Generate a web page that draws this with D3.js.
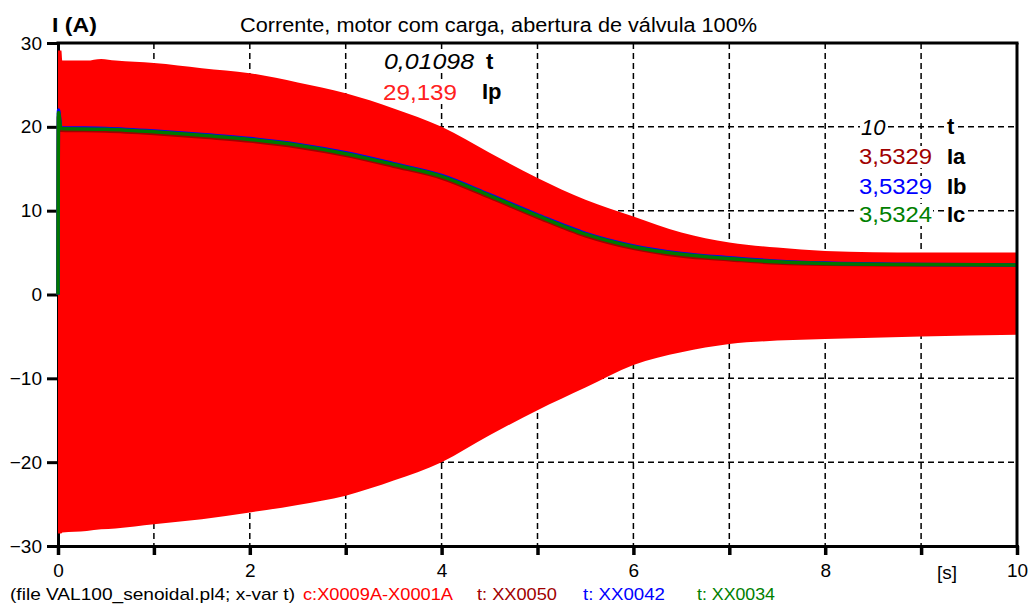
<!DOCTYPE html>
<html>
<head>
<meta charset="utf-8">
<script src="https://cdn.jsdelivr.net/npm/d3@7"></script>
<style>
  html, body { margin: 0; padding: 0; background: #fff; }
  svg { display: block; font-family: "Liberation Sans", Arial, sans-serif; }
</style>
</head>
<body>
<svg id="chart" width="1030" height="605"></svg>
<script>
// ---- data ----
const envTime = [0, 0.035, 0.045, 0.3, 0.45, 0.6, 1, 1.5, 2, 2.5, 3, 3.5, 4, 4.5, 5, 5.5, 6, 6.5, 7, 7.5, 8, 9, 10];
const ipUpper = [29.1, 29.1, 27.9, 27.9, 28.1, 27.9, 27.6, 27.0, 26.4, 25.3, 24.0, 22.2, 20.0, 16.9, 13.9, 11.3, 9.3, 7.4, 6.2, 5.6, 5.2, 5.0, 5.0];
const ipLower = [-28.5, -28.5, -28.4, -28.2, -28.0, -27.9, -27.4, -26.8, -26.0, -25.1, -24.0, -22.2, -20.0, -16.8, -13.8, -11.1, -8.4, -6.9, -5.9, -5.5, -5.3, -5.0, -4.8];

const rmsTime = [0, 0.005, 0.03, 0.5, 1, 1.5, 2, 2.5, 3, 3.5, 4, 4.5, 5, 5.5, 6, 6.5, 7, 7.5, 8, 9, 10];
const ia = [0, 21.3, 19.6, 19.5, 19.2, 18.8, 18.3, 17.6, 16.6, 15.3, 13.9, 11.6, 9.2, 7.0, 5.5, 4.6, 4.15, 3.75, 3.6, 3.55, 3.533];
const ib = [0, 22.0, 19.9, 19.8, 19.5, 19.1, 18.6, 17.9, 16.9, 15.6, 14.2, 11.9, 9.5, 7.3, 5.8, 4.9, 4.38, 3.98, 3.76, 3.59, 3.533];
const ic = [0, 21.7, 19.8, 19.7, 19.4, 19.0, 18.5, 17.8, 16.8, 15.5, 14.1, 11.8, 9.4, 7.2, 5.7, 4.8, 4.3, 3.9, 3.7, 3.57, 3.532];

const yTicks = [-30, -20, -10, 0, 10, 20, 30];
const xTicks = [0, 1, 2, 3, 4, 5, 6, 7, 8, 9, 10];
const xGrid = [1, 2, 3, 4, 5, 6, 7, 8, 9];
const yGrid = [-20, -10, 0, 10, 20];

const titleText = "Corrente, motor com carga, abertura de válvula 100%";
const yLabel = "I (A)";
const xUnit = "[s]";
const cursor1 = { t: "0,01098", value: "29,139", name: "Ip" };
const cursor2 = { t: "10", values: ["3,5329", "3,5329", "3,5324"], names: ["Ia", "Ib", "Ic"] };
const footer = [
  { text: "(file VAL100_senoidal.pl4; x-var t)", color: "#000000" },
  { text: "c:X0009A-X0001A", color: "#ff0000" },
  { text: "t: XX0050", color: "#a00000" },
  { text: "t: XX0042", color: "#0000ff" },
  { text: "t: XX0034", color: "#008000" }
];
const colors = { ip: "#ff0000", ia: "#a00000", ib: "#0000ff", ic: "#007800" };

// ---- layout ----
const W = 1030, H = 605;
const m = { left: 58, top: 43, right: 13, bottom: 59 };
const svg = d3.select("#chart");
const x = d3.scaleLinear().domain([0, 10]).range([m.left, W - m.right]);
const y = d3.scaleLinear().domain([-30, 30]).range([H - m.bottom, m.top]);

// gridlines
const grid = svg.append("g").attr("stroke", "#000").attr("stroke-width", 1.5).attr("stroke-dasharray", "6,4");
grid.selectAll("line.v").data(xGrid).join("line").attr("class", "v")
  .attr("x1", d => x(d)).attr("x2", d => x(d)).attr("y1", y(30)).attr("y2", y(-30));
grid.selectAll("line.h").data(yGrid).join("line").attr("class", "h")
  .attr("x1", x(0)).attr("x2", x(10)).attr("y1", d => y(d)).attr("y2", d => y(d));

// left axis (drawn under the red fill)
const yAxis = d3.axisLeft(y).tickValues(yTicks).tickSize(11).tickPadding(5).tickFormat(d3.format("d"));
const gy = svg.append("g").attr("transform", `translate(${x(0)},0)`).call(yAxis);
gy.select(".domain").attr("stroke-width", 3);
gy.selectAll(".tick line").attr("stroke-width", 3);
gy.selectAll(".tick text").attr("font-size", 19).attr("fill", "#000")
  .attr("font-family", "Liberation Sans, Arial, sans-serif");

// envelope area (Ip)
const env = envTime.map((t, i) => ({ t, hi: ipUpper[i], lo: ipLower[i] }));
svg.append("path").datum(env)
  .attr("fill", colors.ip)
  .attr("d", d3.area().curve(d3.curveMonotoneX).x(d => x(d.t)).y0(d => y(d.lo)).y1(d => y(d.hi)));

// rms lines
const line = d3.line().curve(d3.curveMonotoneX).x(d => x(d.t)).y(d => y(d.v));
[[ia, colors.ia], [ib, colors.ib], [ic, colors.ic]].forEach(([arr, c]) => {
  svg.append("path").datum(rmsTime.map((t, i) => ({ t, v: arr[i] })))
    .attr("fill", "none").attr("stroke", c).attr("stroke-width", 3.5)
    .attr("d", line);
});

// bottom axis
const xAxis = d3.axisBottom(x).tickValues(xTicks).tickSize(9).tickPadding(9)
  .tickFormat(d => d % 2 === 0 ? d : "");
const gx = svg.append("g").attr("transform", `translate(0,${y(-30)})`).call(xAxis);
gx.select(".domain").attr("stroke-width", 3);
gx.selectAll(".tick line").attr("stroke-width", 3.5);
gx.selectAll(".tick text").attr("font-size", 19).attr("fill", "#000")
  .attr("font-family", "Liberation Sans, Arial, sans-serif");

// top & right borders
svg.append("line").attr("x1", x(0) - 1.5).attr("x2", x(10) + 1.5).attr("y1", y(30)).attr("y2", y(30))
  .attr("stroke", "#000").attr("stroke-width", 3);
svg.append("line").attr("x1", x(10)).attr("x2", x(10)).attr("y1", y(30)).attr("y2", y(-30) + 1.5)
  .attr("stroke", "#000").attr("stroke-width", 3);

// texts
function label(txt, px, py, opts = {}) {
  const t = svg.append("text").attr("x", px).attr("y", py).text(txt)
    .attr("font-size", opts.size || 19)
    .attr("fill", opts.color || "#000")
    .attr("font-weight", opts.bold ? "bold" : "normal")
    .attr("font-style", opts.italic ? "italic" : "normal");
  if (opts.len) t.attr("textLength", opts.len).attr("lengthAdjust", "spacingAndGlyphs");
  if (opts.anchor) t.attr("text-anchor", opts.anchor);
  if (opts.bg) {
    const b = t.node().getBBox();
    svg.insert("rect", () => t.node())
      .attr("x", b.x - 1).attr("y", b.y + 2).attr("width", b.width + 2).attr("height", b.height - 3)
      .attr("fill", "#fff");
  }
  return t;
}

label(yLabel, 52, 32, { size: 21, bold: true, len: 45 });
label(titleText, 240, 32, { size: 20, len: 517 });
label(xUnit, 937, 579, { size: 19 });

// cursor 1
label(cursor1.t, 384, 69, { size: 22, italic: true, len: 90, bg: true });
label("t", 486, 69, { size: 22, bold: true, bg: true });
label(cursor1.value, 383, 100, { size: 22, color: "#ff2020", len: 74, bg: true });
label(cursor1.name, 482, 99, { size: 22, bold: true, bg: true });

// cursor 2
label(cursor2.t, 861, 135, { size: 22, italic: true, bg: true });
label("t", 947, 134, { size: 22, bold: true, bg: true });
const c2cols = [colors.ia, colors.ib, "#008000"];
const c2y = [164, 194, 222];
cursor2.values.forEach((v, i) => {
  label(v, 859, c2y[i], { size: 22, color: c2cols[i], len: 73, bg: true });
  label(cursor2.names[i], 947, c2y[i], { size: 22, bold: true, bg: true });
});

// footer
const fx = [10, 303, 477, 583, 697];
const flen = [285, 150, 80, 82, 78];
footer.forEach((f, i) => label(f.text, fx[i], 600, { size: 17, color: f.color, len: flen[i] }));
</script>
</body>
</html>
